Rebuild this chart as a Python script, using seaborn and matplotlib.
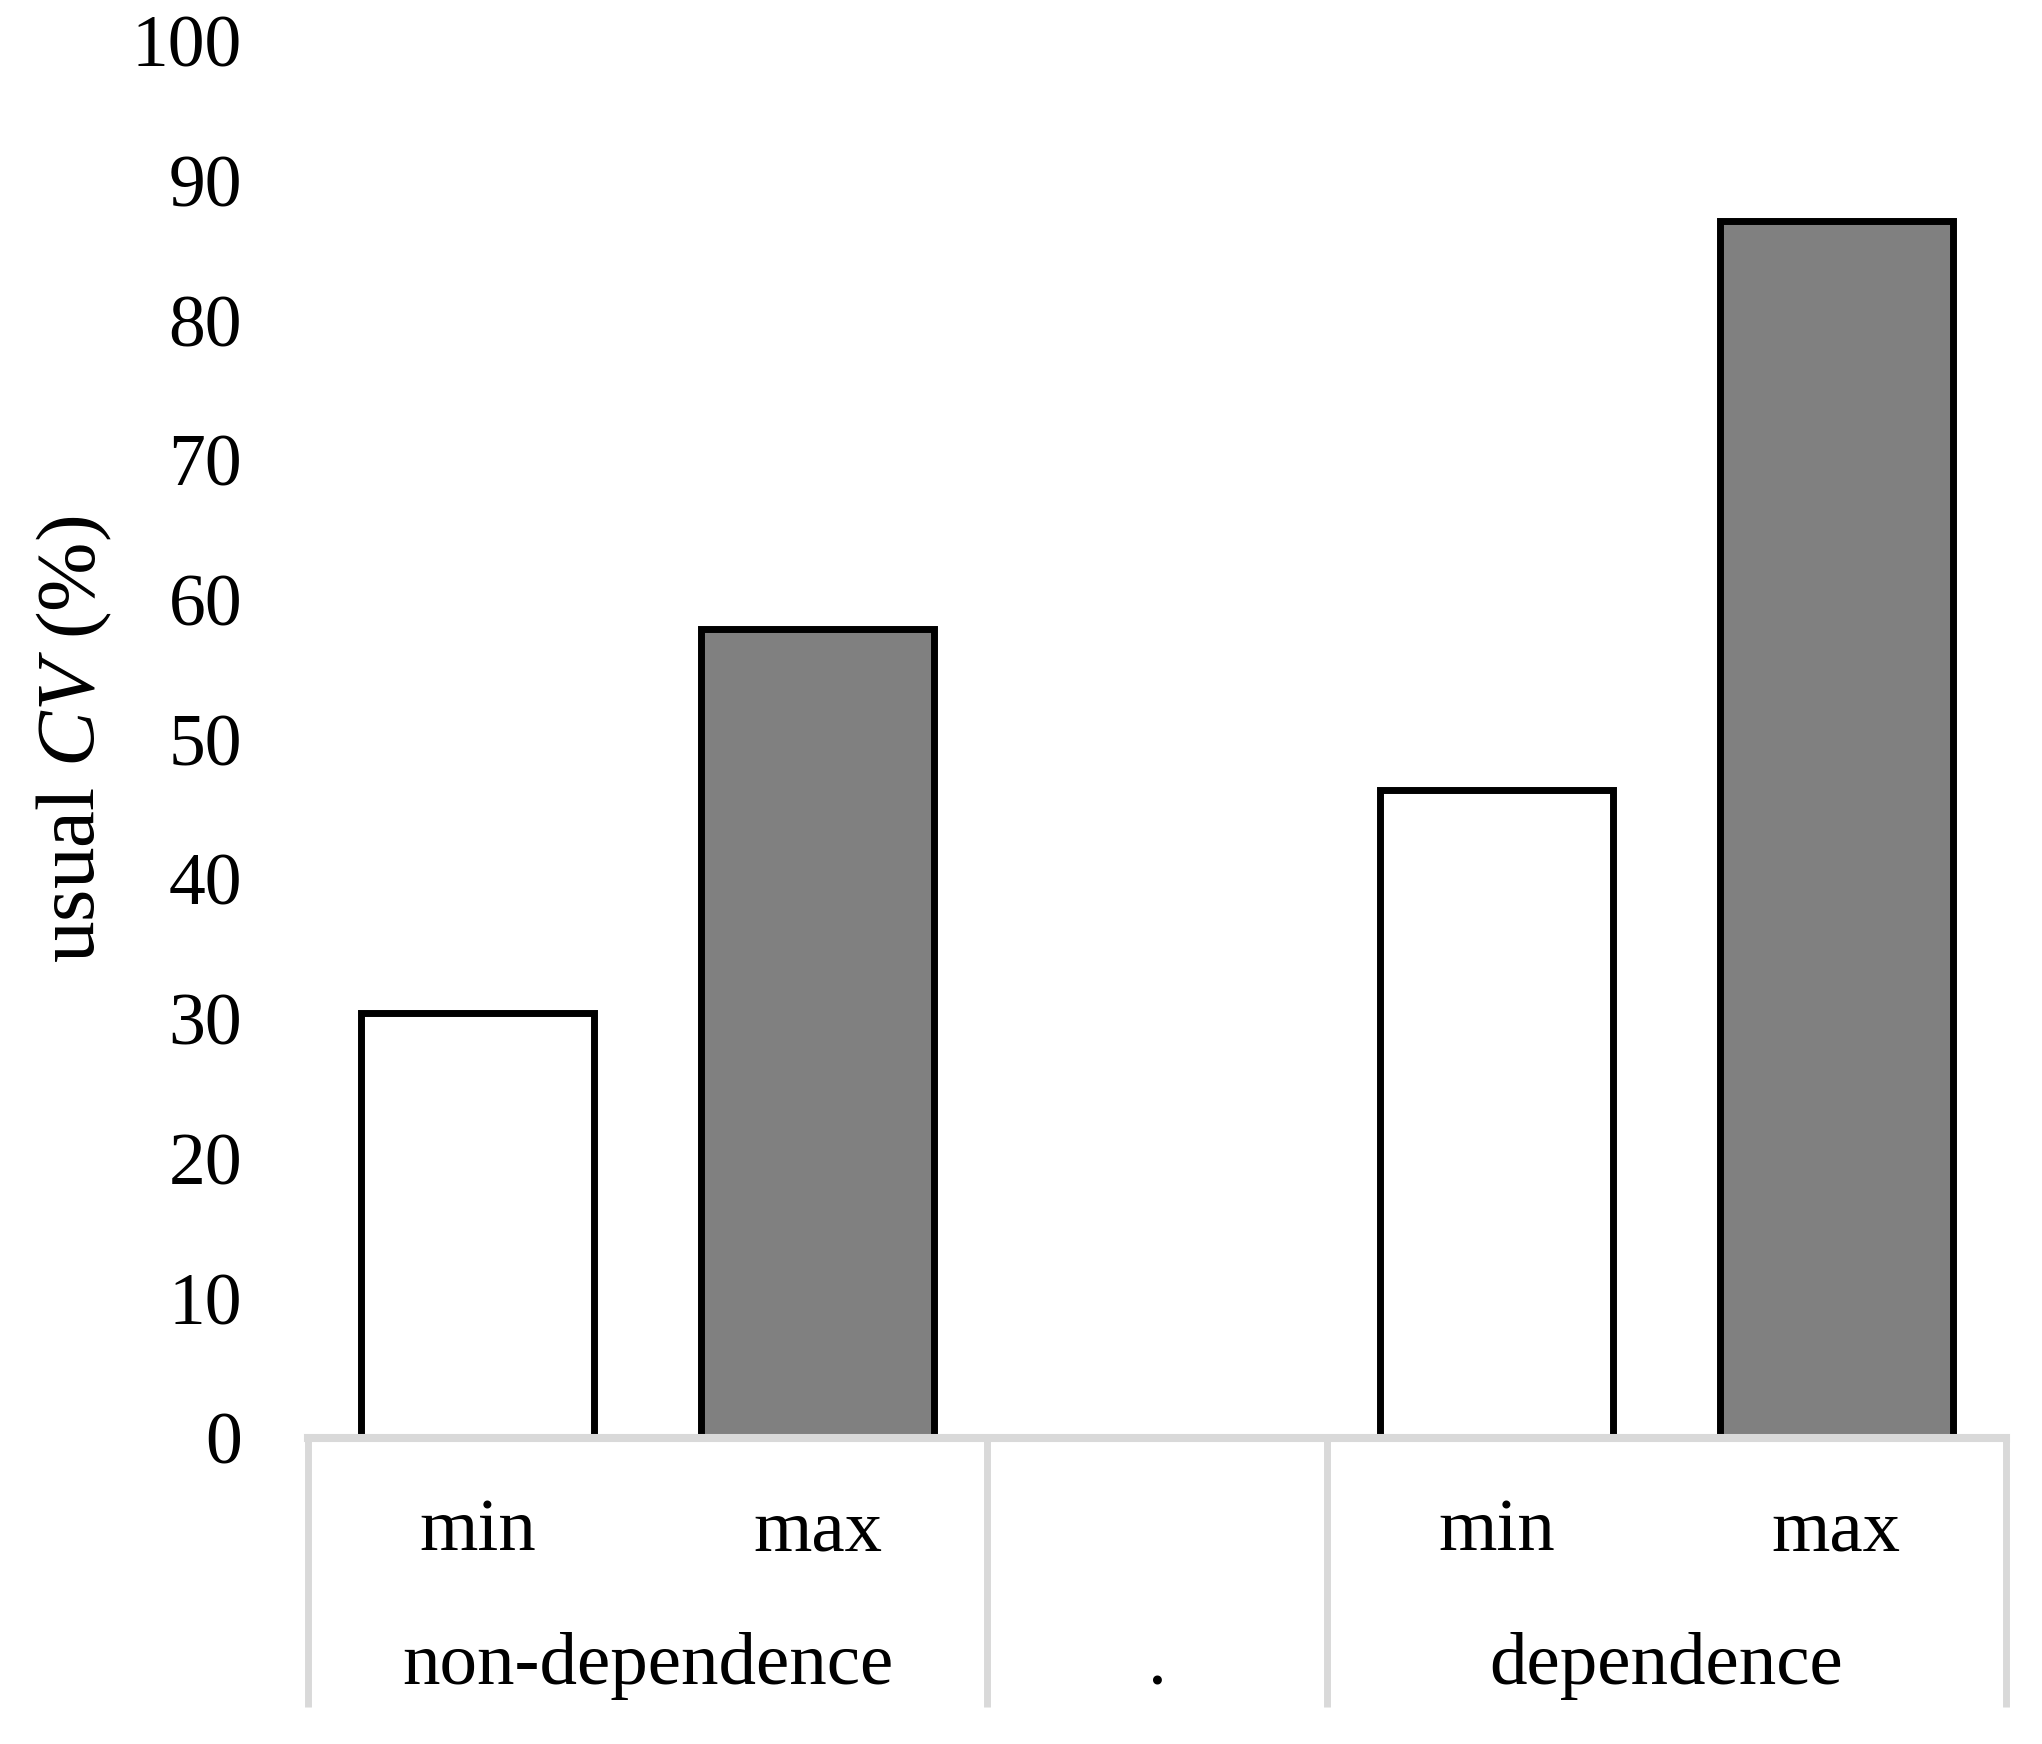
import matplotlib
matplotlib.use("Agg")
import matplotlib.pyplot as plt
import matplotlib.transforms as mtransforms
import seaborn as sns
import pandas as pd

# data
slots = ["nd_min", "nd_max", ".", "d_min", "d_max"]
bar_slots = ["nd_min", "nd_max", "d_min", "d_max"]
bar_stats = ["min", "max", "min", "max"]
usual_cv = [30.4, 57.9, 46.4, 87.1]

inner_labels = ["min", "max", "", "min", "max"]
group_labels = ["non-dependence", ".", "dependence"]
group_pos = [0.5, 2, 3.5]
separators = [-0.5, 1.5, 2.5, 4.5]

GREY = "#D9D9D9"


def make_plot():
    sns.set_style("white")
    plt.rcParams["font.family"] = ["Liberation Serif", "DejaVu Serif"]
    plt.rcParams["mathtext.fontset"] = "custom"
    plt.rcParams["mathtext.rm"] = "Liberation Serif"
    plt.rcParams["mathtext.it"] = "Liberation Serif:italic"
    plt.rcParams["text.color"] = "black"
    plt.rcParams["axes.labelcolor"] = "black"
    plt.rcParams["ytick.color"] = "black"

    df = pd.DataFrame({"slot": bar_slots, "stat": bar_stats, "cv": usual_cv})

    fig = plt.figure(figsize=(20.42, 17.44), dpi=100)
    ax = fig.add_axes([0.15083, 0.17546, 0.83154, 0.80103])

    sns.barplot(data=df, x="slot", y="cv", hue="stat", order=slots,
                palette={"min": "white", "max": "#808080"},
                edgecolor="black", linewidth=5, width=0.686,
                dodge=False, legend=False, ax=ax)

    ax.set_xlim(-0.5, 4.5)
    ax.set_ylim(0, 100)
    ax.set_yticks(range(0, 101, 10))
    ax.tick_params(axis="y", length=0, pad=47.5, labelsize=53,
                   labelcolor="black")
    ax.set_xticks([])
    ax.set_xlabel("")

    for side in ["left", "right", "top"]:
        ax.spines[side].set_visible(False)
    ax.spines["bottom"].set_color(GREY)
    ax.spines["bottom"].set_linewidth(5.8)

    ax.set_ylabel("usual $\\mathit{CV}$ (%)", fontsize=60, color="black")
    ax.yaxis.set_label_coords(-0.1145, 0.5)

    trans = mtransforms.blended_transform_factory(ax.transData, ax.transAxes)
    for x in separators:
        ax.plot([x, x], [0, -0.1923], transform=trans, clip_on=False,
                color=GREY, lw=5, solid_capstyle="butt")
    for i, lab in enumerate(inner_labels):
        ax.text(i, -0.0802, lab, transform=trans, ha="center",
                va="baseline", fontsize=54, color="black")
    for x, lab in zip(group_pos, group_labels):
        ax.text(x, -0.1763, lab, transform=trans, ha="center",
                va="baseline", fontsize=54, color="black")

    fig.savefig("out.png", dpi=100)
    plt.close(fig)


if __name__ == "__main__":
    make_plot()
